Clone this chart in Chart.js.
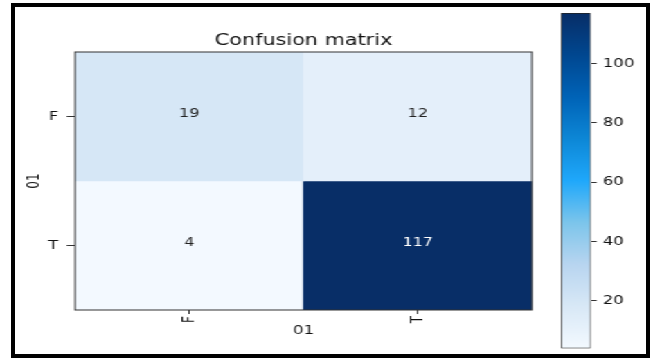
<!DOCTYPE html>
<html>
<head>
<meta charset="utf-8">
<script src="https://cdn.jsdelivr.net/npm/chart.js@4/dist/chart.umd.min.js"></script>
<style>
  html, body { margin: 0; padding: 0; background: #fff; }
  body { width: 654px; height: 360px; position: relative; overflow: hidden; }
  #frame { position: absolute; left: 11px; top: 3px; width: 639px; height: 355px;
           border: 4px solid #000; box-sizing: border-box; }
  /* the figure is laid out narrow and widened as a whole */
  #stage { position: absolute; left: 0; top: 0; width: 472px; height: 360px;
           transform: scaleX(1.385); transform-origin: 0 0; }
  #matrix { position: absolute; left: 0; top: 0; }
  #cbar { position: absolute; left: 400px; top: 0; }
</style>
</head>
<body>
<div id="frame"></div>
<div id="stage">
  <canvas id="matrix" width="440" height="360"></canvas>
  <canvas id="cbar" width="72" height="360"></canvas>
</div>
<script>
// ---- data ----
const chartTitle = 'Confusion matrix';
const axisTitle = '01';
const classLabels = ['F', 'T'];
const rowF = [19, 12];   // true F: predicted F, predicted T
const rowT = [4, 117];   // true T: predicted F, predicted T
const colorbarTicks = [20, 40, 60, 80, 100];

const rows = [rowF, rowT];
const allValues = rows.flat();
const vmin = Math.min(...allValues);
const vmax = Math.max(...allValues);

// ---- vivid "Blues" colour map ----
const BLUES = ['#f7fbff', '#deebf7', '#c6dbef', '#9ecae1', '#6baed6',
               '#4292c6', '#2171b5', '#08519c', '#08306b'];

function hexToRgb(h) {
  const n = parseInt(h.slice(1), 16);
  return [(n >> 16) & 255, (n >> 8) & 255, n & 255];
}
function rgbToHsl([r, g, b]) {
  r /= 255; g /= 255; b /= 255;
  const mx = Math.max(r, g, b), mn = Math.min(r, g, b);
  let h = 0, s = 0;
  const l = (mx + mn) / 2;
  if (mx !== mn) {
    const d = mx - mn;
    s = l > 0.5 ? d / (2 - mx - mn) : d / (mx + mn);
    if (mx === r) h = (g - b) / d + (g < b ? 6 : 0);
    else if (mx === g) h = (b - r) / d + 2;
    else h = (r - g) / d + 4;
    h /= 6;
  }
  return [h, s, l];
}
function hslToRgb([h, s, l]) {
  if (s === 0) return [l, l, l].map(v => Math.round(v * 255));
  const q = l < 0.5 ? l * (1 + s) : l + s - l * s;
  const p = 2 * l - q;
  const f = t => {
    if (t < 0) t += 1;
    if (t > 1) t -= 1;
    if (t < 1 / 6) return p + (q - p) * 6 * t;
    if (t < 1 / 2) return q;
    if (t < 2 / 3) return p + (q - p) * (2 / 3 - t) * 6;
    return p;
  };
  return [f(h + 1 / 3), f(h), f(h - 1 / 3)].map(v => Math.round(v * 255));
}
// punchier mid-tones, pale end left almost untouched
const STOPS = BLUES.map((c, i) => {
  const t = i / (BLUES.length - 1);
  const [h, s, l] = rgbToHsl(hexToRgb(c));
  const w = t > 0.5 ? 4 * t * (1 - t) : Math.pow(t / 0.5, 2);
  return hslToRgb([h, Math.min(1, s * (1 + 0.7 * w)), Math.max(0, l - 0.07 * w - 0.008)]);
});
const rgbStr = c => `rgb(${c[0]},${c[1]},${c[2]})`;

function blues(t) {
  t = Math.max(0, Math.min(1, t));
  const p = t * (STOPS.length - 1);
  const i = Math.min(Math.floor(p), STOPS.length - 2);
  const f = p - i;
  const a = STOPS[i], b = STOPS[i + 1];
  return rgbStr(a.map((v, k) => Math.round(v + (b[k] - v) * f)));
}
const cellColor = v => blues((v - vmin) / (vmax - vmin));

const FONT = 'DejaVu Sans';
const INK = '#111';
const SPINE = '#333';

// ---- plugins ----
const cellLabels = {
  id: 'cellLabels',
  afterDatasetsDraw(chart) {
    const ctx = chart.ctx;
    ctx.save();
    ctx.font = `11.5px "${FONT}"`;
    ctx.textAlign = 'center';
    ctx.textBaseline = 'alphabetic';
    chart.data.datasets.forEach((ds, i) => {
      chart.getDatasetMeta(i).data.forEach((bar, j) => {
        const v = ds.cellValues[j];
        ctx.fillStyle = v > vmax / 2 ? '#fff' : '#222';
        ctx.fillText(String(v), bar.x, (bar.y + bar.base) / 2);
      });
    });
    ctx.restore();
  }
};

const axesFrame = {
  id: 'axesFrame',
  afterDraw(chart) {
    const { ctx, chartArea: a } = chart;
    ctx.save();
    ctx.strokeStyle = SPINE;
    ctx.lineWidth = 1;
    ctx.strokeRect(a.left, a.top, a.right - a.left, a.bottom - a.top);
    ctx.restore();
  }
};

// ---- matrix ----
const datasets = rows.map((vals, r) => ({
  label: classLabels[r],
  data: vals.map(() => [r, r + 1]),
  cellValues: vals,
  backgroundColor: vals.map(cellColor),
  borderWidth: 0,
  grouped: false,
  barPercentage: 1,
  categoryPercentage: 1
}));

const tickFont = { family: FONT, size: 12 };

new Chart(document.getElementById('matrix'), {
  type: 'bar',
  data: { labels: classLabels, datasets },
  plugins: [cellLabels, axesFrame],
  options: {
    responsive: false,
    animation: false,
    devicePixelRatio: 1,
    layout: { padding: { left: 14.2, right: 55.9, top: 32, bottom: 22.4 } },
    plugins: {
      legend: { display: false },
      tooltip: { enabled: false },
      title: {
        display: true, text: chartTitle, fullSize: false, color: INK,
        font: { family: FONT, size: 15, weight: 'normal', lineHeight: 1.2 },
        padding: { top: 0, bottom: 2 }
      }
    },
    scales: {
      x: {
        type: 'category',
        offset: true,
        grid: { display: true, drawOnChartArea: false, drawTicks: true,
                tickLength: 4, offset: false, color: SPINE },
        border: { display: false },
        ticks: { minRotation: 90, maxRotation: 90, padding: 2, color: INK, font: tickFont },
        title: { display: true, text: axisTitle, color: INK, font: tickFont, padding: 0 },
        afterFit(s) { s.height = 27.6; }
      },
      y: {
        type: 'linear',
        min: 0, max: classLabels.length,
        reverse: true,
        afterBuildTicks(s) { s.ticks = classLabels.map((_, i) => ({ value: i + 0.5 })); },
        ticks: { callback: v => classLabels[Math.floor(v)], padding: 6, color: INK, font: tickFont },
        grid: { display: true, drawOnChartArea: false, drawTicks: true, tickLength: 6, color: SPINE },
        border: { display: false },
        title: { display: true, text: axisTitle, color: INK, font: tickFont,
                 padding: { top: 3, bottom: 0 } },
        afterFit(s) { s.width = 40; }
      }
    }
  }
});

// ---- colour bar ----
function colorbarFill(context) {
  const area = context.chart.chartArea;
  if (!area) return rgbStr(STOPS[0]);
  const g = context.chart.ctx.createLinearGradient(0, area.bottom, 0, area.top);
  STOPS.forEach((c, i) => g.addColorStop(i / (STOPS.length - 1), rgbStr(c)));
  return g;
}

new Chart(document.getElementById('cbar'), {
  type: 'bar',
  data: {
    labels: [''],
    datasets: [{
      data: [[vmin, vmax]],
      backgroundColor: colorbarFill,
      borderColor: '#222',
      borderWidth: 1,
      borderSkipped: false,
      barPercentage: 1,
      categoryPercentage: 1
    }]
  },
  options: {
    responsive: false,
    animation: false,
    devicePixelRatio: 1,
    layout: { padding: { left: 5.1, right: 0, top: 13, bottom: 11 } },
    plugins: { legend: { display: false }, tooltip: { enabled: false } },
    scales: {
      x: { display: false },
      y: {
        position: 'right',
        min: vmin, max: vmax,
        afterBuildTicks(s) { s.ticks = colorbarTicks.map(v => ({ value: v })); },
        ticks: { padding: 4.4, color: INK, font: tickFont },
        grid: { display: true, drawOnChartArea: false, drawTicks: true, tickLength: 4.3, color: SPINE },
        border: { display: false },
        afterFit(s) { s.width = 45.5; }
      }
    }
  }
});
</script>
</body>
</html>
